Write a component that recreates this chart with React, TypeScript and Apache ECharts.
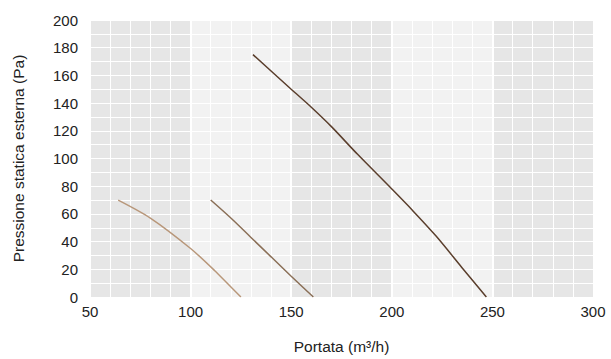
import React, { useEffect, useRef } from "react";
import * as echarts from "echarts";

const curve1X = [64, 80, 100, 112, 125];
const curve1Y = [70, 57, 35, 19, 0];
const curve2X = [110, 120, 130, 140, 150, 161];
const curve2Y = [70, 57, 43, 29, 15, 0];
const curve3X = [131, 150, 160, 170, 183, 200, 210, 222, 235, 247];
const curve3Y = [175, 150, 137, 123, 103, 78, 63, 44, 21, 0];

const bandStarts = [50, 100, 150, 200, 250];
const bandEnds = [100, 150, 200, 250, 300];
const bandColors = ["#e6e6e6", "#f2f2f2", "#e6e6e6", "#f2f2f2", "#e6e6e6"];
const bandBoundaries = [100, 150, 200, 250];

const xName = "Portata (m³/h)";
const yName = "Pressione statica esterna (Pa)";

const zip = (xs: number[], ys: number[]) => xs.map((x, i) => [x, ys[i]]);

export default function App() {
  const ref = useRef<HTMLDivElement>(null);
  useEffect(() => {
    if (!ref.current) return;
    const chart = echarts.init(ref.current, null, { renderer: "svg" });
    const font = "'Liberation Sans', Arial, sans-serif";
    chart.setOption({
      animation: false,
      textStyle: { fontFamily: font },
      grid: { left: 90, right: 18, top: 20, bottom: 61 },
      xAxis: {
        type: "value",
        z: 3,
        min: 50,
        max: 300,
        interval: 10,
        name: xName,
        nameLocation: "middle",
        nameGap: 41,
        nameTextStyle: { fontSize: 15.5, color: "#222", fontFamily: font },
        axisLine: { show: false },
        axisTick: { show: false },
        axisLabel: {
          fontSize: 15,
          color: "#222",
          margin: 7,
          fontFamily: font,
          formatter: (v: number) => (v % 50 === 0 ? String(v) : ""),
        },
        splitLine: { show: true, lineStyle: { color: "#ffffff", width: 1 } },
      },
      yAxis: {
        type: "value",
        z: 3,
        min: 0,
        max: 200,
        interval: 10,
        name: yName,
        nameLocation: "middle",
        nameGap: 64,
        nameTextStyle: { fontSize: 15.5, color: "#222", fontFamily: font },
        axisLine: { show: false },
        axisTick: { show: false },
        axisLabel: {
          fontSize: 15,
          color: "#222",
          margin: 12,
          fontFamily: font,
          formatter: (v: number) => (v % 20 === 0 ? String(v) : ""),
        },
        splitLine: { show: true, lineStyle: { color: "#ffffff", width: 1 } },
      },
      series: [
        {
          type: "line",
          z: 1,
          data: [[50, 0]],
          symbol: "none",
          lineStyle: { opacity: 0 },
          silent: true,
          markArea: {
            silent: true,
            data: bandStarts.map((s, i) => [
              { xAxis: s, yAxis: 0, itemStyle: { color: bandColors[i] } },
              { xAxis: bandEnds[i], yAxis: 200 },
            ]),
          },
          markLine: {
            silent: true,
            symbol: "none",
            label: { show: false },
            lineStyle: { color: "#ffffff", width: 2, type: "solid" },
            data: bandBoundaries.map((b) => ({ xAxis: b })),
          },
        },
        {
          type: "line",
          z: 5,
          data: zip(curve1X, curve1Y),
          symbol: "none",
          smooth: 0.3,
          lineStyle: { color: "#b8977a", width: 1.5 },
        },
        {
          type: "line",
          z: 5,
          data: zip(curve2X, curve2Y),
          symbol: "none",
          smooth: 0.3,
          lineStyle: { color: "#8a6f57", width: 1.5 },
        },
        {
          type: "line",
          z: 5,
          data: zip(curve3X, curve3Y),
          symbol: "none",
          smooth: 0.3,
          lineStyle: { color: "#5a3e2c", width: 1.5 },
        },
      ],
    });
    return () => chart.dispose();
  }, []);
  return (
    <div
      ref={ref}
      style={{ position: "absolute", left: 0, top: 0, width: 611, height: 359 }}
    />
  );
}
